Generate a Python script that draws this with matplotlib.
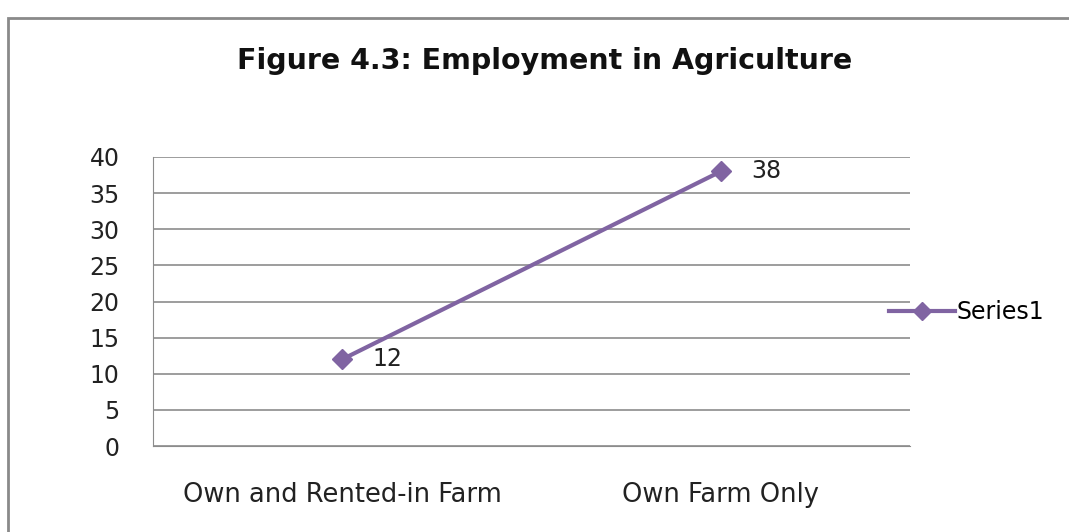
import matplotlib.pyplot as plt
from matplotlib.patches import Rectangle

categories = ['Own and Rented-in Farm', 'Own Farm Only']
values = [12, 38]
series_name = 'Series1'
yticks = [0, 5, 10, 15, 20, 25, 30, 35, 40]

plt.rcParams['font.family'] = ['DejaVu Sans']

fig = plt.figure(figsize=(10.69, 5.32), dpi=100)
ax = fig.add_axes([153 / 1069, 1 - 446 / 532, 757 / 1069, 289 / 532])

# outer chart border (runs off the right and bottom edges)
fig.patches.append(Rectangle((8 / 1069, -0.05), 1.1, 1 - 18 / 532 + 0.05,
                             transform=fig.transFigure, fill=False,
                             edgecolor='#8a8a8a', linewidth=2))

x = list(range(len(categories)))
line, = ax.plot(x, values, color='#8064A2', linewidth=3, marker='D',
                markersize=10.5, label=series_name)

for xi, v in zip(x, values):
    ax.annotate(str(v), (xi, v), xytext=(22, 0), textcoords='offset points',
                va='center', ha='left', fontsize=17, color='#222222')

ax.set_xlim(-0.5, 1.5)
ax.set_ylim(0, 40)
ax.set_yticks(yticks)
ax.set_xticks(x)
ax.set_xticklabels(categories, fontsize=18.5, color='#222222')
ax.tick_params(axis='y', labelsize=17, colors='#222222', length=0, pad=24)
ax.tick_params(axis='x', length=0, pad=26)
ax.grid(axis='y', color='#8c8c8c', linewidth=1.2)
ax.set_axisbelow(True)
for s in ['top', 'right']:
    ax.spines[s].set_visible(False)
ax.spines['left'].set_color('#8c8c8c')
ax.spines['bottom'].set_color('#8c8c8c')

fig.text(545 / 1069, 1 - 61 / 532, 'Figure 4.3: Employment in Agriculture',
         ha='center', va='center', fontsize=20.5, fontweight='bold', color='#111111')

fig.legend(handles=[line], loc='center left', bbox_to_anchor=(868 / 1069, 1 - 312 / 532),
           frameon=False, fontsize=17, handlelength=2.8, handletextpad=0.05,
           markerscale=0.85)

plt.savefig('out.png', dpi=100)
